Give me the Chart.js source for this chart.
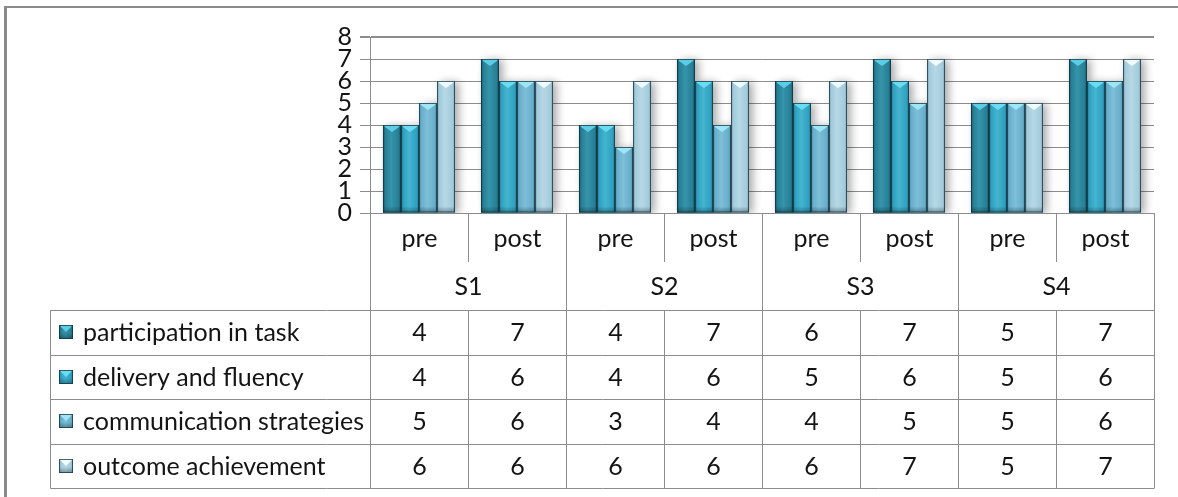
<!DOCTYPE html>
<html>
<head>
<meta charset="utf-8">
<script src="https://cdn.jsdelivr.net/npm/chart.js@4.4.1/dist/chart.umd.min.js"></script>
<style>
  html, body { margin: 0; padding: 0; background: #fff; overflow: hidden; }
  canvas { display: block; }
</style>
</head>
<body>
<canvas id="c" width="1178" height="497"></canvas>
<script>
// Scores per session (S1–S4), before and after
const sessions = ['S1', 'S2', 'S3', 'S4'];
const phaseLabels = ['pre', 'post', 'pre', 'post', 'pre', 'post', 'pre', 'post'];
const seriesNames = ['participation in task', 'delivery and fluency', 'communication strategies', 'outcome achievement'];
const participation = [4, 7, 4, 7, 6, 7, 5, 7];
const delivery = [4, 6, 4, 6, 5, 6, 5, 6];
const communication = [5, 6, 3, 4, 4, 5, 5, 6];
const outcome = [6, 6, 6, 6, 6, 7, 5, 7];
const yTicks = [0, 1, 2, 3, 4, 5, 6, 7, 8];

// Bevelled teal shades, one per series
const palette = [
  { base: '#277f94', dark: '#17566a', light: '#3594ab', top: '#5ccde6' },
  { base: '#2fa1bf', dark: '#1e7690', light: '#44b4d0', top: '#6adcf2' },
  { base: '#68aecb', dark: '#4a8aa5', light: '#7ebfd8', top: '#9de6f6' },
  { base: '#a3cbdb', dark: '#7aa2b3', light: '#b6d8e5', top: '#f0fbff' }
];
const LINE = '#8c8c8c';
const TEXT = '#141414';
const FONT = 'Lato, "Open Sans", sans-serif';

const seriesData = [participation, delivery, communication, outcome];

function bevel(ctx, left, top, w, h, c) {
  if (h <= 0) return;
  const right = left + w;
  const g = ctx.createLinearGradient(left, 0, right, 0);
  g.addColorStop(0, c.dark);
  g.addColorStop(0.14, c.base);
  g.addColorStop(0.45, c.light);
  g.addColorStop(0.86, c.base);
  g.addColorStop(1, c.dark);
  ctx.fillStyle = g;
  ctx.fillRect(left, top, w, h);
  // darker foot
  const fg = ctx.createLinearGradient(0, top + h - 6, 0, top + h);
  fg.addColorStop(0, 'rgba(0,0,0,0)');
  fg.addColorStop(1, 'rgba(0,30,40,0.35)');
  ctx.fillStyle = fg;
  ctx.fillRect(left, Math.max(top, top + h - 6), w, Math.min(6, h));
  // light top cap with a chevron pointing down
  const cap = Math.min(7, h * 0.5);
  ctx.fillStyle = c.top;
  ctx.beginPath();
  ctx.moveTo(left + 1, top);
  ctx.lineTo(right - 1, top);
  ctx.lineTo(right - 2, top + 2);
  ctx.lineTo(left + w / 2, top + cap);
  ctx.lineTo(left + 2, top + 2);
  ctx.closePath();
  ctx.fill();
  // outline
  ctx.strokeStyle = 'rgba(20,50,60,0.75)';
  ctx.lineWidth = 1;
  ctx.strokeRect(left + 0.5, top + 0.5, w - 1, h - 1);
}

const barStyle = {
  id: 'barStyle',
  beforeDatasetsDraw(chart) {
    const ctx = chart.ctx;
    const a = chart.chartArea;
    ctx.save();
    ctx.beginPath();
    ctx.rect(a.left, a.top - 10, a.right - a.left + 20, a.bottom - a.top + 10);
    ctx.clip();
    ctx.shadowColor = 'rgba(0,0,0,0.33)';
    ctx.shadowBlur = 8;
    ctx.shadowOffsetX = 4;
    ctx.shadowOffsetY = 1;
    chart.data.datasets.forEach((ds, di) => {
      chart.getDatasetMeta(di).data.forEach(el => {
        const { x, y, base, width } = el.getProps(['x', 'y', 'base', 'width'], true);
        ctx.fillStyle = palette[di].base;
        ctx.fillRect(x - width / 2, y, width, base - y);
      });
    });
    ctx.restore();
  },
  afterDatasetsDraw(chart) {
    const ctx = chart.ctx;
    ctx.save();
    chart.data.datasets.forEach((ds, di) => {
      chart.getDatasetMeta(di).data.forEach(el => {
        const { x, y, base, width } = el.getProps(['x', 'y', 'base', 'width'], true);
        bevel(ctx, x - width / 2, y, width, base - y, palette[di]);
      });
    });
    ctx.restore();
  }
};

const dataTable = {
  id: 'dataTable',
  afterDraw(chart) {
    const ctx = chart.ctx;
    const a = chart.chartArea;
    const n = phaseLabels.length;
    const step = (a.right - a.left) / n;
    const edge = i => Math.round(a.left + i * step) + 0.5;
    const headTop = a.bottom;
    const headMid = 262;
    const tableTop = 310;
    const rowH = 44.5;
    const tableLeft = 50.5;
    const tableBottom = tableTop + rowH * seriesNames.length;
    const hy = v => Math.round(v) + 0.5;

    ctx.save();
    // frame
    ctx.fillStyle = '#8a8a8a';
    ctx.fillRect(4, 6, 3, 497 - 6);
    ctx.fillRect(4, 6, 1178 - 4, 2);

    ctx.strokeStyle = LINE;
    ctx.lineWidth = 1;
    ctx.beginPath();
    // category boundaries
    for (let i = 0; i <= n; i++) {
      const xx = edge(i);
      const bottom = (i % 2 === 0) ? tableBottom : headMid;
      ctx.moveTo(xx, headTop);
      ctx.lineTo(xx, bottom);
      // cells in the table rows
      ctx.moveTo(xx, tableTop);
      ctx.lineTo(xx, tableBottom);
    }
    ctx.moveTo(tableLeft, tableTop);
    ctx.lineTo(tableLeft, hy(tableBottom));
    for (let r = 0; r <= seriesNames.length; r++) {
      const yy = hy(tableTop + r * rowH);
      ctx.moveTo(tableLeft, yy);
      ctx.lineTo(edge(n), yy);
    }
    ctx.stroke();

    ctx.fillStyle = TEXT;
    ctx.font = '25px ' + FONT;
    ctx.textAlign = 'center';
    ctx.textBaseline = 'middle';
    // phase row
    phaseLabels.forEach((lab, i) => {
      ctx.fillText(lab, (edge(i) + edge(i + 1)) / 2, (headTop + headMid) / 2 + 1);
    });
    // session row
    sessions.forEach((s, g) => {
      ctx.fillText(s, (edge(2 * g) + edge(2 * g + 2)) / 2, (headMid + tableTop) / 2 + 1);
    });
    // series rows
    seriesNames.forEach((name, r) => {
      const cy = tableTop + r * rowH + rowH / 2;
      const c = palette[r];
      bevel(ctx, 59, Math.round(cy) - 7, 14, 14, c);
      ctx.fillStyle = TEXT;
      ctx.textAlign = 'left';
      ctx.fillText(name, 83, cy + 1);
      ctx.textAlign = 'center';
      seriesData[r].forEach((v, i) => {
        ctx.fillText(String(v), (edge(i) + edge(i + 1)) / 2, cy + 1);
      });
    });
    ctx.restore();
  }
};

function draw() {
  new Chart(document.getElementById('c'), {
    type: 'bar',
    data: {
      labels: phaseLabels,
      datasets: seriesNames.map((name, i) => ({
        label: name,
        data: seriesData[i],
        backgroundColor: palette[i].base,
        borderWidth: 0
      }))
    },
    options: {
      responsive: false,
      animation: false,
      devicePixelRatio: 1,
      layout: { padding: { top: 37, right: 24, bottom: 284, left: 0 } },
      datasets: { bar: { categoryPercentage: 0.735, barPercentage: 1 } },
      plugins: { legend: { display: false }, tooltip: { enabled: false } },
      scales: {
        x: { display: false },
        y: {
          min: yTicks[0],
          max: yTicks[yTicks.length - 1],
          afterBuildTicks(scale) { scale.ticks = yTicks.map(v => ({ value: v })); },
          afterFit(scale) { scale.width = 370; },
          ticks: { color: TEXT, font: { family: FONT, size: 25, lineHeight: 0.85 }, padding: 8, autoSkip: false },
          grid: {
            color: LINE,
            tickLength: 10,
            lineWidth: c => (c.tick && c.tick.value === 8 ? 2 : 1)
          },
          border: { color: LINE }
        }
      }
    },
    plugins: [barStyle, dataTable]
  });
}

if (document.fonts && document.fonts.load) {
  document.fonts.load('25px Lato').then(draw, draw);
} else {
  draw();
}
</script>
</body>
</html>
